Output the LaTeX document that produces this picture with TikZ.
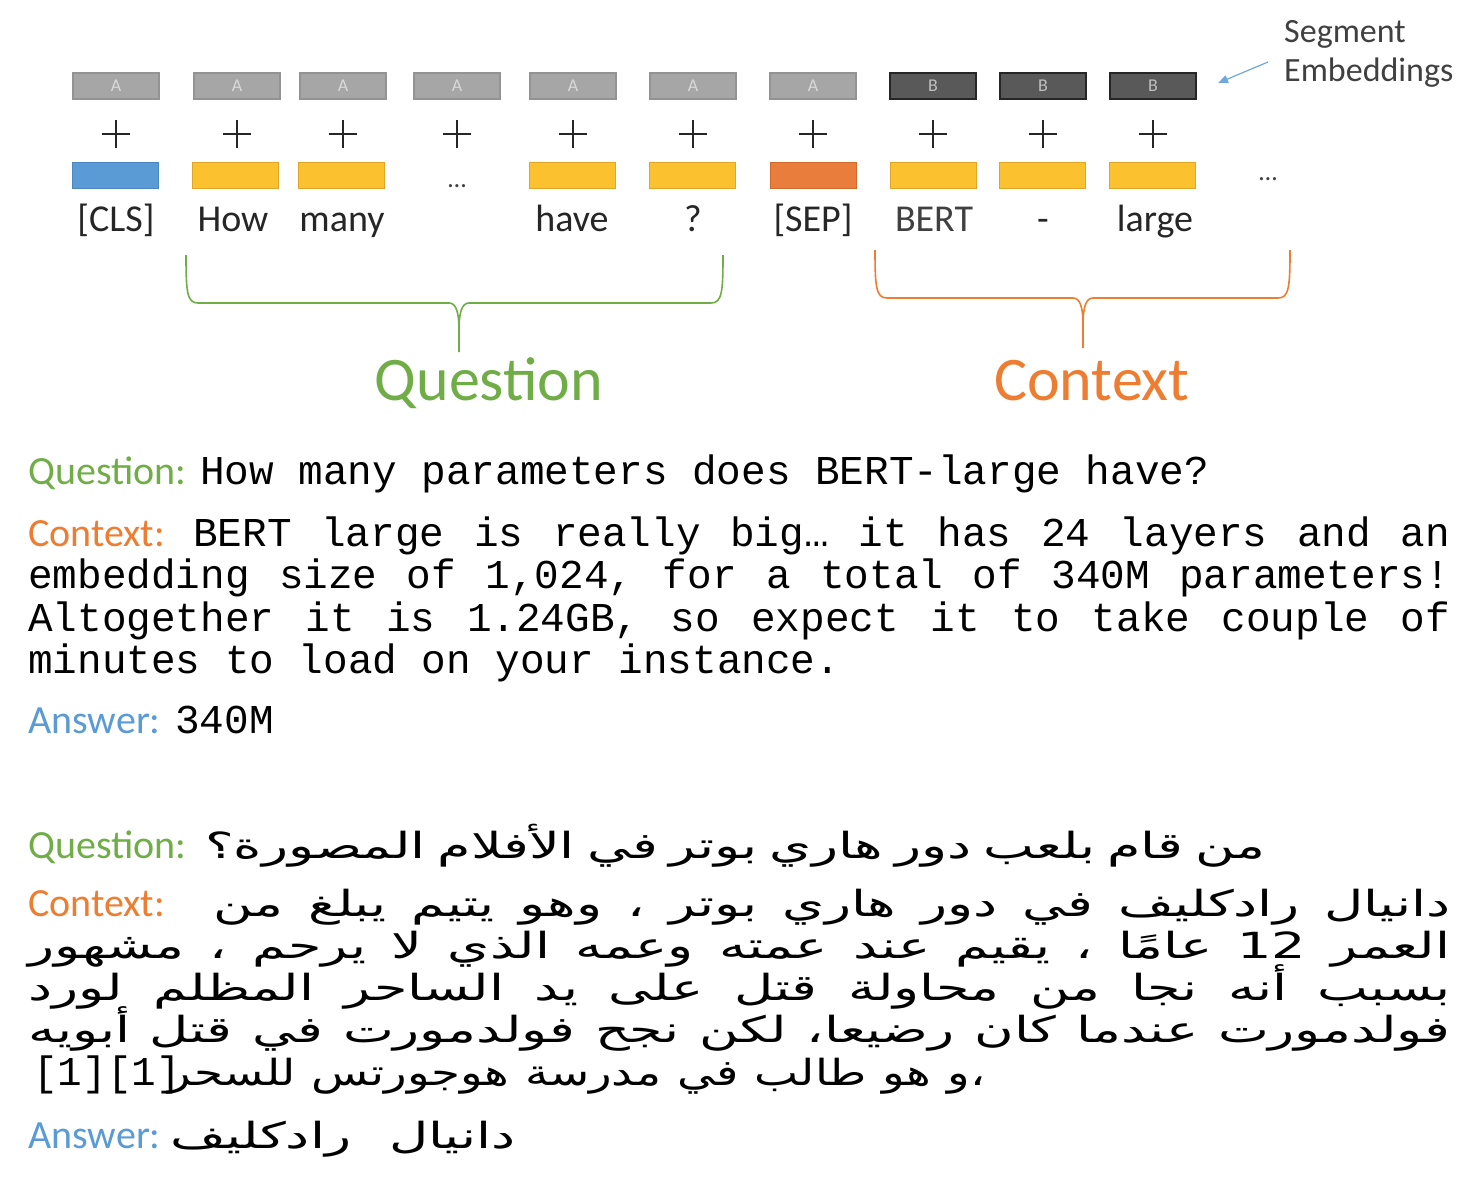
\documentclass[tikz,border=0pt]{standalone}
\usepackage{fontspec}
\usetikzlibrary{arrows.meta}
\setmainfont{Carlito}
\newfontfamily\mymono{Liberation Mono}
\newfontfamily\myarabic[Script=Arabic,FakeStretch=1.5]{DejaVu Sans}
\newfontfamily\myarabicn[Script=Arabic,FakeStretch=1.3]{DejaVu Sans}
\TeXXeTstate=1
\definecolor{qgreen}{HTML}{70AD47}
\definecolor{corange}{HTML}{ED7D31}
\definecolor{ablue}{HTML}{5B9BD5}
\definecolor{arrblue}{HTML}{6FA8DC}
\definecolor{tokyellow}{HTML}{FBC12F}
\definecolor{tokyline}{HTML}{E0A526}
\definecolor{clsfill}{HTML}{5B9BD5}
\definecolor{clsline}{HTML}{4A86C0}
\definecolor{sepfill}{HTML}{E97D3B}
\definecolor{sepline}{HTML}{D06A2A}
\definecolor{segAfill}{HTML}{A6A6A6}
\definecolor{segAline}{HTML}{939393}
\definecolor{segAtext}{HTML}{D9D9D9}
\definecolor{segBfill}{HTML}{595959}
\definecolor{segBline}{HTML}{262626}
\definecolor{segBtext}{HTML}{BFBFBF}
\definecolor{inkdark}{HTML}{262626}
\definecolor{inkgray}{HTML}{404040}
\newcommand\monoline[2]{\hbox to #1{\mymono\frenchspacing\spaceskip=0.6em plus 1fil\relax #2}}
\newcommand\arline[2]{\hbox to #1{\myarabic\frenchspacing\spaceskip=0.3em plus 1fil\relax #2}}
\newcommand\arlinen[2]{\hbox to #1{\myarabicn\frenchspacing\spaceskip=0.3em plus 1fil\relax #2}}
\tikzset{
  segbox/.style={minimum width=86pt, minimum height=26pt, inner sep=0pt, line width=1.2pt, font=\fontsize{18}{18}\selectfont},
  segA/.style={segbox, draw=segAline, fill=segAfill, text=segAtext},
  segB/.style={segbox, draw=segBline, fill=segBfill, text=segBtext},
  tokbox/.style={minimum width=86pt, minimum height=26pt, inner sep=0pt, line width=1pt},
  tokY/.style={tokbox, fill=tokyellow, draw=tokyline},
  tokC/.style={tokbox, fill=clsfill, draw=clsline},
  tokS/.style={tokbox, fill=sepfill, draw=sepline},
  toklabel/.style={anchor=base, inner sep=0pt, text=inkdark, font=\fontsize{38}{38}\selectfont},
  plusmark/.style={line width=2pt, draw=inkdark},
  dotmark/.style={anchor=base, inner sep=0pt, text=inkgray, font=\fontsize{26}{26}\selectfont},
  brQ/.style={draw=qgreen, line width=1.6pt},
  brC/.style={draw=corange, line width=1.6pt},
  bigtitle/.style={anchor=base, inner sep=0pt, font=\fontsize{62}{62}\selectfont},
  lab/.style={anchor=base west, inner sep=0pt, font=\fontsize{40}{40}\selectfont},
  mtext/.style={anchor=base west, inner sep=0pt, text=black, font=\fontsize{41}{43}\selectfont},
  atext/.style={anchor=base west, inner sep=0pt, text=black, font=\fontsize{36}{42}\selectfont},
  segarrow/.style={draw=arrblue, line width=1.2pt, -{Triangle[length=10pt,width=8pt]}},
}
\begin{document}
\begin{tikzpicture}[x=1pt,y=-1pt]
\useasboundingbox[fill=white] (0,0) rectangle (1472,1176);

% segment embeddings row
\node[segA] (s1) at (116,86) {A};
\node[segA] (s2) at (237,86) {A};
\node[segA] (s3) at (343,86) {A};
\node[segA] (s4) at (457,86) {A};
\node[segA] (s5) at (573,86) {A};
\node[segA] (s6) at (693,86) {A};
\node[segA] (s7) at (813,86) {A};
\node[segB] (s8) at (933,86) {B};
\node[segB] (s9) at (1043,86) {B};
\node[segB] (s10) at (1153,86) {B};

% plus signs
\foreach \px in {116,237,343,457,573,693,813,933,1043,1153}{
  \draw[plusmark] (\px-14,134) -- (\px+14,134) (\px,120) -- (\px,148);
}

% token embeddings row
\node[tokC] (t1) at (115,175) {};
\node[tokY] (t2) at (235,175) {};
\node[tokY] (t3) at (341,175) {};
\node[dotmark] (t4) at (457,187) {…};
\node[tokY] (t5) at (572,175) {};
\node[tokY] (t6) at (692,175) {};
\node[tokS] (t7) at (813,175) {};
\node[tokY] (t8) at (933,175) {};
\node[tokY] (t9) at (1042,175) {};
\node[tokY] (t10) at (1152,175) {};
\node[dotmark] (tmore) at (1268,180) {…};

% token labels
\node[toklabel] (l1) at (116,231) {[CLS]};
\node[toklabel] (l2) at (233,231) {How};
\node[toklabel] (l3) at (342,231) {many};
\node[toklabel] (l5) at (572,231) {have};
\node[toklabel] (l6) at (693,231) {?};
\node[toklabel] (l7) at (813,231) {[SEP]};
\node[toklabel, text=inkgray] (l8) at (934,231) {BERT};
\node[toklabel] (l9) at (1043,231) {-};
\node[toklabel] (l10) at (1155,231) {large};

% segment embeddings label
\node[anchor=north west, inner sep=0pt, align=left, text=inkgray, font=\fontsize{34}{39}\selectfont] (segemb) at (1284,20) {Segment\\Embeddings};
\coordinate (arrtail) at (1268,62);
\coordinate (arrtip) at (1218,83);
\draw[segarrow] (arrtail) -- (arrtip);

% braces
\draw[brQ] (186,255) .. controls (186,292) and (187,303) .. (198,303) -- (449,303) .. controls (456,303) and (459,312) .. (459,330) -- (459,352);
\draw[brQ] (723,255) .. controls (723,292) and (722,303) .. (711,303) -- (469,303) .. controls (462,303) and (459,312) .. (459,330);
\draw[brC] (875,250) .. controls (875,287) and (876,298) .. (887,298) -- (1073,298) .. controls (1080,298) and (1083,307) .. (1083,325) -- (1083,348);
\draw[brC] (1290,250) .. controls (1290,287) and (1289,298) .. (1278,298) -- (1093,298) .. controls (1086,298) and (1083,307) .. (1083,325);

\node[bigtitle, text=qgreen] (qtitle) at (489,400) {Question};
\node[bigtitle, text=corange] (ctitle) at (1092,400) {Context};

% English example
\node[lab, text=qgreen] (eqlab) at (28,484) {Question:};
\node[mtext] (eqtxt) at (200,484) {\mymono How many parameters does BERT-large have?};
\node[lab, text=corange] (eclab) at (28,546) {Context:};
\node[mtext] (ec1) at (193,546) {\monoline{1257pt}{BERT large is really big… it has 24 layers and an}};
\node[mtext] (ec2) at (28,588) {\monoline{1422pt}{embedding size of 1,024, for a total of 340M parameters!}};
\node[mtext] (ec3) at (28,631) {\monoline{1422pt}{Altogether it is 1.24GB, so expect it to take couple of}};
\node[mtext] (ec4) at (28,673) {\mymono minutes to load on your instance.};
\node[lab, text=ablue] (ealab) at (28,733) {Answer:};
\node[mtext] (eatxt) at (175,733) {\mymono 340M};

% Arabic example
\node[lab, text=qgreen] (aqlab) at (28,858) {Question:};
\node[atext] (aqtxt) at (205,858) {\arline{1060pt}{\beginR من قام بلعب دور هاري بوتر في الأفلام المصورة؟\endR}};
\node[lab, text=corange] (aclab) at (28,916) {Context:};
\node[atext] (ac1) at (213,916) {\arline{1237pt}{\beginR دانيال رادكليف في دور هاري بوتر ، وهو يتيم يبلغ من\endR}};
\node[atext] (ac2) at (28,958) {\arline{1422pt}{\beginR العمر \beginL 12\endL{} عامًا ، يقيم عند عمته وعمه الذي لا يرحم ، مشهور\endR}};
\node[atext] (ac3) at (28,1000) {\arline{1422pt}{\beginR بسبب أنه نجا من محاولة قتل على يد الساحر المظلم لورد\endR}};
\node[atext] (ac4) at (28,1042) {\arline{1422pt}{\beginR فولدمورت عندما كان رضيعا، لكن نجح فولدمورت في قتل أبويه\endR}};
\node[mtext] (ac5ref) at (33,1085) {\mymono [1][1]};
\node[atext] (ac5) at (168,1085) {\arlinen{817pt}{\beginR ،و هو طالب في مدرسة هوجورتس للسحر\endR}};
\node[lab, text=ablue] (aalab) at (28,1148) {Answer:};
\node[atext] (aatxt) at (170,1148) {\arline{345pt}{\beginR دانيال رادكليف\endR}};
\end{tikzpicture}
\end{document}
